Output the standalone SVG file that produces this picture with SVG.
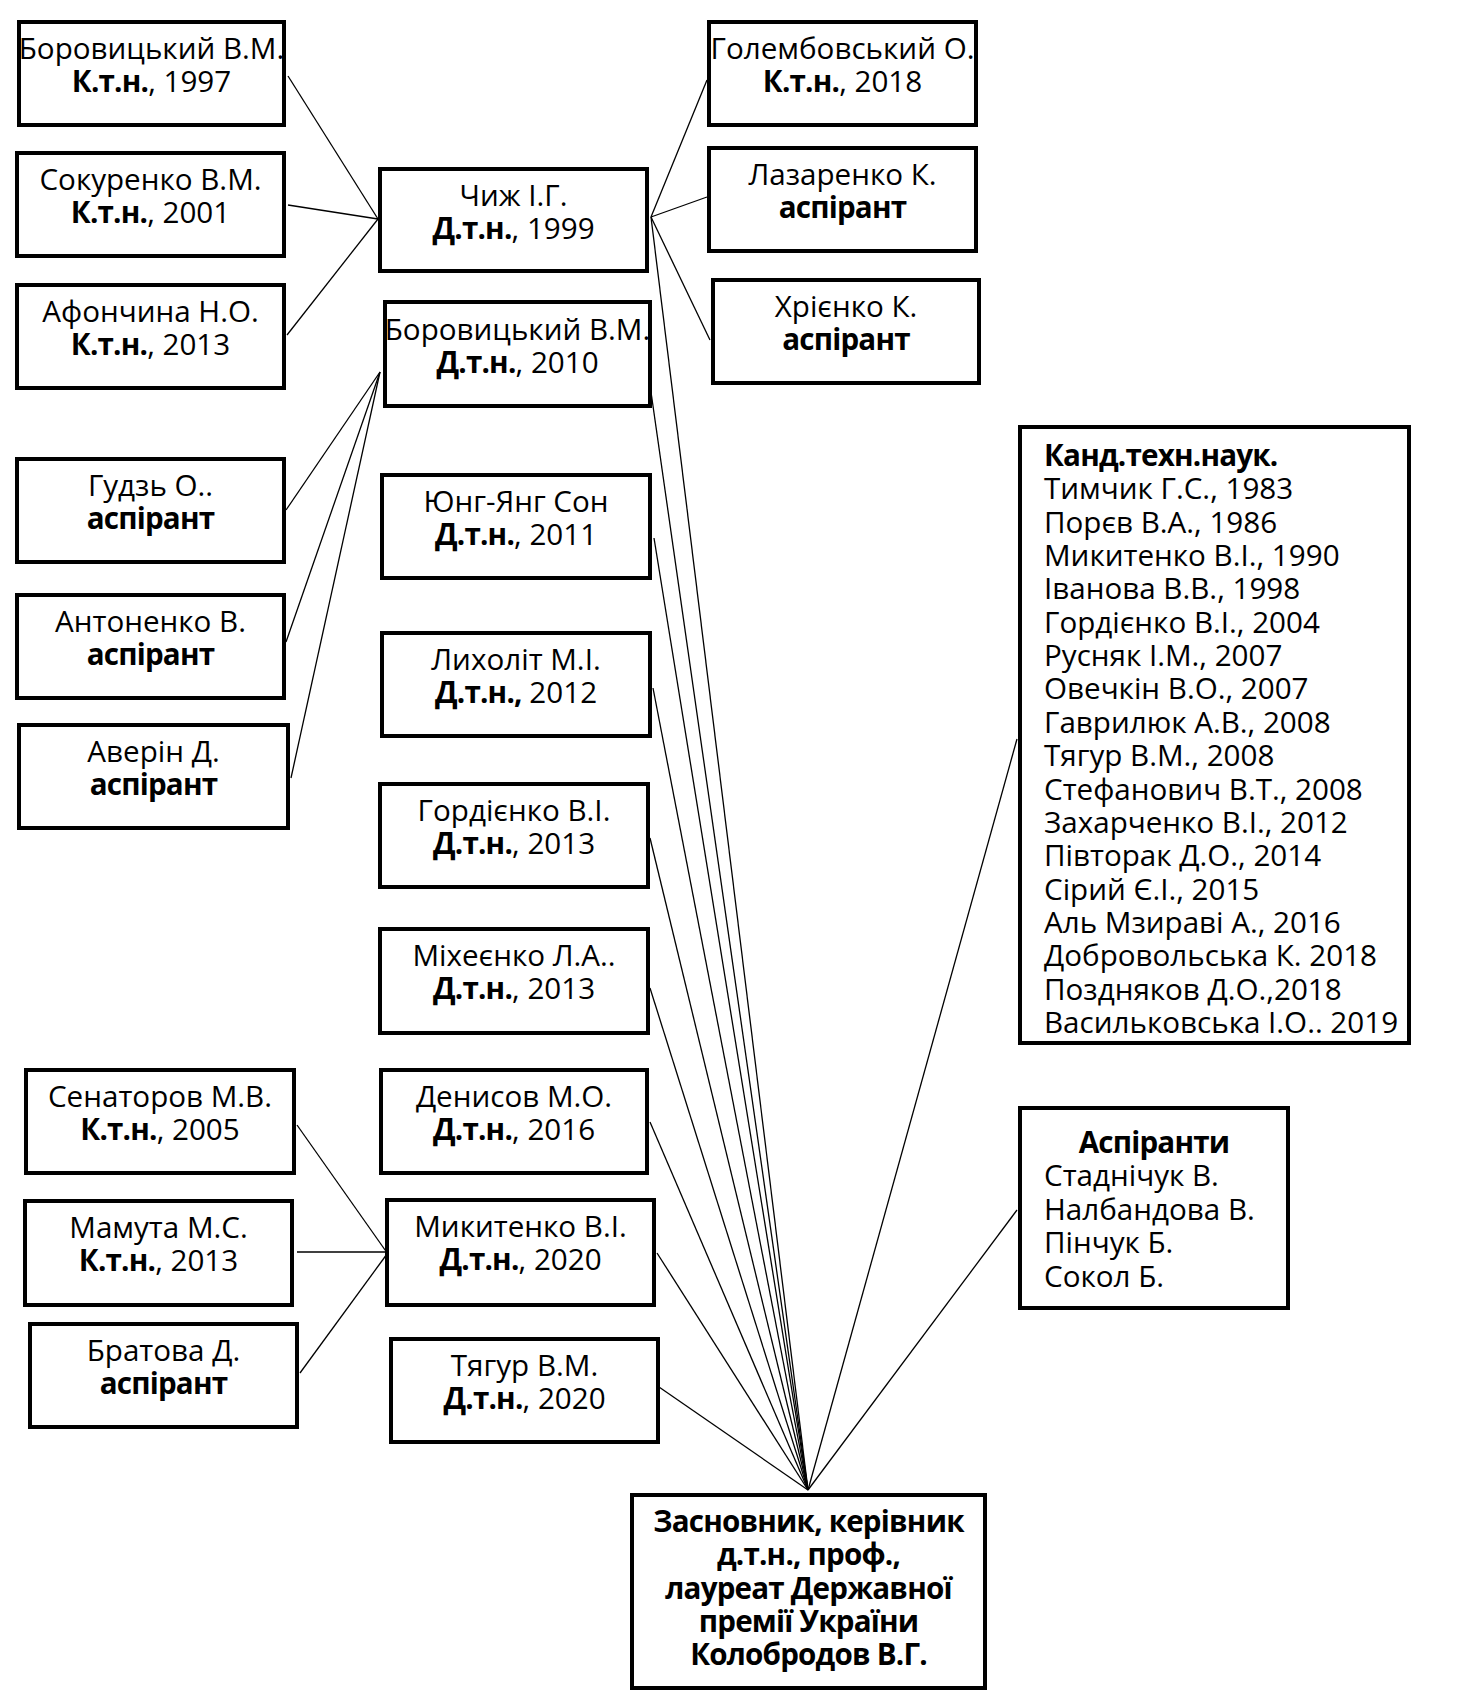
<svg xmlns="http://www.w3.org/2000/svg" width="1460" height="1706" viewBox="0 0 1460 1706">
<style>
.b{fill:#fff;stroke:#000;stroke-width:4}
.t{font-family:"Open Sans","Noto Sans",sans-serif;font-size:29.6px;fill:#000}
.c{text-anchor:middle}
.bd{font-weight:bold;letter-spacing:-0.8px}
.ln{stroke:#000;stroke-width:1.3;fill:none}
</style>
<rect width="1460" height="1706" fill="#fff"/>
<g id="connectors">
<line class="ln" x1="288" y1="76" x2="378" y2="219"/>
<line class="ln" x1="288" y1="205" x2="378" y2="219"/>
<line class="ln" x1="287" y1="335" x2="378" y2="219"/>
<line class="ln" x1="651" y1="217" x2="707" y2="80"/>
<line class="ln" x1="651" y1="217" x2="707" y2="197"/>
<line class="ln" x1="651" y1="217" x2="710" y2="340"/>
<line class="ln" x1="380" y1="372" x2="286" y2="510"/>
<line class="ln" x1="380" y1="372" x2="286" y2="642"/>
<line class="ln" x1="380" y1="372" x2="291" y2="778"/>
<line class="ln" x1="297" y1="1125" x2="390" y2="1257"/>
<line class="ln" x1="297" y1="1252" x2="386" y2="1252"/>
<line class="ln" x1="300" y1="1373" x2="387" y2="1254"/>
<line class="ln" x1="651" y1="217" x2="808" y2="1490"/>
<line class="ln" x1="649" y1="378" x2="808" y2="1490"/>
<line class="ln" x1="654" y1="538" x2="808" y2="1490"/>
<line class="ln" x1="653" y1="688" x2="808" y2="1490"/>
<line class="ln" x1="650" y1="838" x2="808" y2="1490"/>
<line class="ln" x1="650" y1="988" x2="808" y2="1490"/>
<line class="ln" x1="650" y1="1122" x2="808" y2="1490"/>
<line class="ln" x1="657" y1="1253" x2="808" y2="1490"/>
<line class="ln" x1="659" y1="1387" x2="808" y2="1490"/>
<line class="ln" x1="1017" y1="739" x2="808" y2="1490"/>
<line class="ln" x1="1017" y1="1210" x2="808" y2="1490"/>
</g>
<g id="n-borovytskyi-k"><rect class="b" x="19" y="22" width="265" height="103"/><text class="t c" x="151.5" y="59">Боровицький В.М.<tspan x="151.5" dy="33"><tspan class="bd">К.т.н.</tspan>, 1997</tspan></text></g>
<g id="n-sokurenko"><rect class="b" x="17" y="153" width="267" height="103"/><text class="t c" x="150.5" y="190">Сокуренко В.М.<tspan x="150.5" dy="33"><tspan class="bd">К.т.н.</tspan>, 2001</tspan></text></g>
<g id="n-afonchyna"><rect class="b" x="17" y="285" width="267" height="103"/><text class="t c" x="150.5" y="322">Афончина Н.О.<tspan x="150.5" dy="33"><tspan class="bd">К.т.н.</tspan>, 2013</tspan></text></g>
<g id="n-gudz"><rect class="b" x="17" y="459" width="267" height="103"/><text class="t c" x="150.5" y="496">Гудзь О..<tspan class="bd" x="150.5" dy="33">аспірант</tspan></text></g>
<g id="n-antonenko"><rect class="b" x="17" y="595" width="267" height="103"/><text class="t c" x="150.5" y="632">Антоненко В.<tspan class="bd" x="150.5" dy="33">аспірант</tspan></text></g>
<g id="n-averin"><rect class="b" x="19" y="725" width="269" height="103"/><text class="t c" x="153.5" y="762">Аверін Д.<tspan class="bd" x="153.5" dy="33">аспірант</tspan></text></g>
<g id="n-senatorov"><rect class="b" x="26" y="1070" width="268" height="103"/><text class="t c" x="160" y="1107">Сенаторов М.В.<tspan x="160" dy="33"><tspan class="bd">К.т.н.</tspan>, 2005</tspan></text></g>
<g id="n-mamuta"><rect class="b" x="25" y="1201" width="267" height="104"/><text class="t c" x="158.5" y="1238">Мамута М.С.<tspan x="158.5" dy="33"><tspan class="bd">К.т.н.</tspan>, 2013</tspan></text></g>
<g id="n-bratova"><rect class="b" x="30" y="1324" width="267" height="103"/><text class="t c" x="163.5" y="1361">Братова Д.<tspan class="bd" x="163.5" dy="33">аспірант</tspan></text></g>
<g id="n-chyzh"><rect class="b" x="380" y="169" width="267" height="102"/><text class="t c" x="513.5" y="206">Чиж І.Г.<tspan x="513.5" dy="33"><tspan class="bd">Д.т.н.</tspan>, 1999</tspan></text></g>
<g id="n-borovytskyi-d"><rect class="b" x="385" y="302" width="265" height="104"/><text class="t c" x="517.5" y="340">Боровицький В.М.<tspan x="517.5" dy="33"><tspan class="bd">Д.т.н.</tspan>, 2010</tspan></text></g>
<g id="n-yung"><rect class="b" x="382" y="475" width="268" height="103"/><text class="t c" x="516" y="512">Юнг-Янг Сон<tspan x="516" dy="33"><tspan class="bd">Д.т.н.</tspan>, 2011</tspan></text></g>
<g id="n-lykholit"><rect class="b" x="382" y="633" width="268" height="103"/><text class="t c" x="516" y="670">Лихоліт М.І.<tspan x="516" dy="33"><tspan class="bd">Д.т.н.,</tspan> 2012</tspan></text></g>
<g id="n-gordiienko"><rect class="b" x="380" y="784" width="268" height="103"/><text class="t c" x="514" y="821">Гордієнко В.І.<tspan x="514" dy="33"><tspan class="bd">Д.т.н.</tspan>, 2013</tspan></text></g>
<g id="n-mikheienko"><rect class="b" x="380" y="929" width="268" height="104"/><text class="t c" x="514" y="966">Міхеєнко Л.А..<tspan x="514" dy="33"><tspan class="bd">Д.т.н.</tspan>, 2013</tspan></text></g>
<g id="n-denysov"><rect class="b" x="381" y="1070" width="266" height="103"/><text class="t c" x="514" y="1107">Денисов М.О.<tspan x="514" dy="33"><tspan class="bd">Д.т.н.</tspan>, 2016</tspan></text></g>
<g id="n-mykytenko"><rect class="b" x="387" y="1200" width="267" height="105"/><text class="t c" x="520.5" y="1237">Микитенко В.І.<tspan x="520.5" dy="33"><tspan class="bd">Д.т.н.</tspan>, 2020</tspan></text></g>
<g id="n-tiahur"><rect class="b" x="391" y="1339" width="267" height="103"/><text class="t c" x="524.5" y="1376">Тягур В.М.<tspan x="524.5" dy="33"><tspan class="bd">Д.т.н.</tspan>, 2020</tspan></text></g>
<g id="n-golembovskyi"><rect class="b" x="709" y="22" width="267" height="103"/><text class="t c" x="842.5" y="59">Голембовський О.<tspan x="842.5" dy="33"><tspan class="bd">К.т.н.</tspan>, 2018</tspan></text></g>
<g id="n-lazarenko"><rect class="b" x="709" y="148" width="267" height="103"/><text class="t c" x="842.5" y="185">Лазаренко К.<tspan class="bd" x="842.5" dy="33">аспірант</tspan></text></g>
<g id="n-khriienko"><rect class="b" x="713" y="280" width="266" height="103"/><text class="t c" x="846" y="317">Хрієнко К.<tspan class="bd" x="846" dy="33">аспірант</tspan></text></g>
<g id="n-kand"><rect class="b" x="1020" y="427" width="389" height="616"/>
<text class="t" x="1044" y="466"><tspan class="bd">Канд.техн.наук.</tspan>
<tspan x="1044" dy="33.35">Тимчик Г.С., 1983</tspan>
<tspan x="1044" dy="33.35">Порєв В.А., 1986</tspan>
<tspan x="1044" dy="33.35">Микитенко В.І., 1990</tspan>
<tspan x="1044" dy="33.35">Іванова В.В., 1998</tspan>
<tspan x="1044" dy="33.35">Гордієнко В.І., 2004</tspan>
<tspan x="1044" dy="33.35">Русняк І.М., 2007</tspan>
<tspan x="1044" dy="33.35">Овечкін В.О., 2007</tspan>
<tspan x="1044" dy="33.35">Гаврилюк А.В., 2008</tspan>
<tspan x="1044" dy="33.35">Тягур В.М., 2008</tspan>
<tspan x="1044" dy="33.35">Стефанович В.Т., 2008</tspan>
<tspan x="1044" dy="33.35">Захарченко В.І., 2012</tspan>
<tspan x="1044" dy="33.35">Півторак Д.О., 2014</tspan>
<tspan x="1044" dy="33.35">Сірий Є.І., 2015</tspan>
<tspan x="1044" dy="33.35">Аль Мзираві А., 2016</tspan>
<tspan x="1044" dy="33.35">Добровольська К. 2018</tspan>
<tspan x="1044" dy="33.35">Поздняков Д.О.,2018</tspan>
<tspan x="1044" dy="33.35">Васильковська І.О.. 2019</tspan></text></g>
<g id="n-aspiranty"><rect class="b" x="1020" y="1108" width="268" height="200"/>
<text class="t" x="1154" y="1153"><tspan class="bd" text-anchor="middle">Аспіранти</tspan><tspan x="1044" dy="33.4">Стаднічук В.</tspan><tspan x="1044" dy="33.4">Налбандова В.</tspan><tspan x="1044" dy="33.4">Пінчук Б.</tspan><tspan x="1044" dy="33.4">Сокол Б.</tspan></text></g>
<g id="n-founder"><rect class="b" x="632" y="1495" width="353" height="193"/>
<text class="t c bd" x="808.5" y="1532">Засновник, керівник<tspan x="808.5" dy="33.3">д.т.н., проф.,</tspan><tspan x="808.5" dy="33.3">лауреат Державної</tspan><tspan x="808.5" dy="33.3">премії України</tspan><tspan x="808.5" dy="33.3">Колобродов В.Г.</tspan></text></g>
</svg>
